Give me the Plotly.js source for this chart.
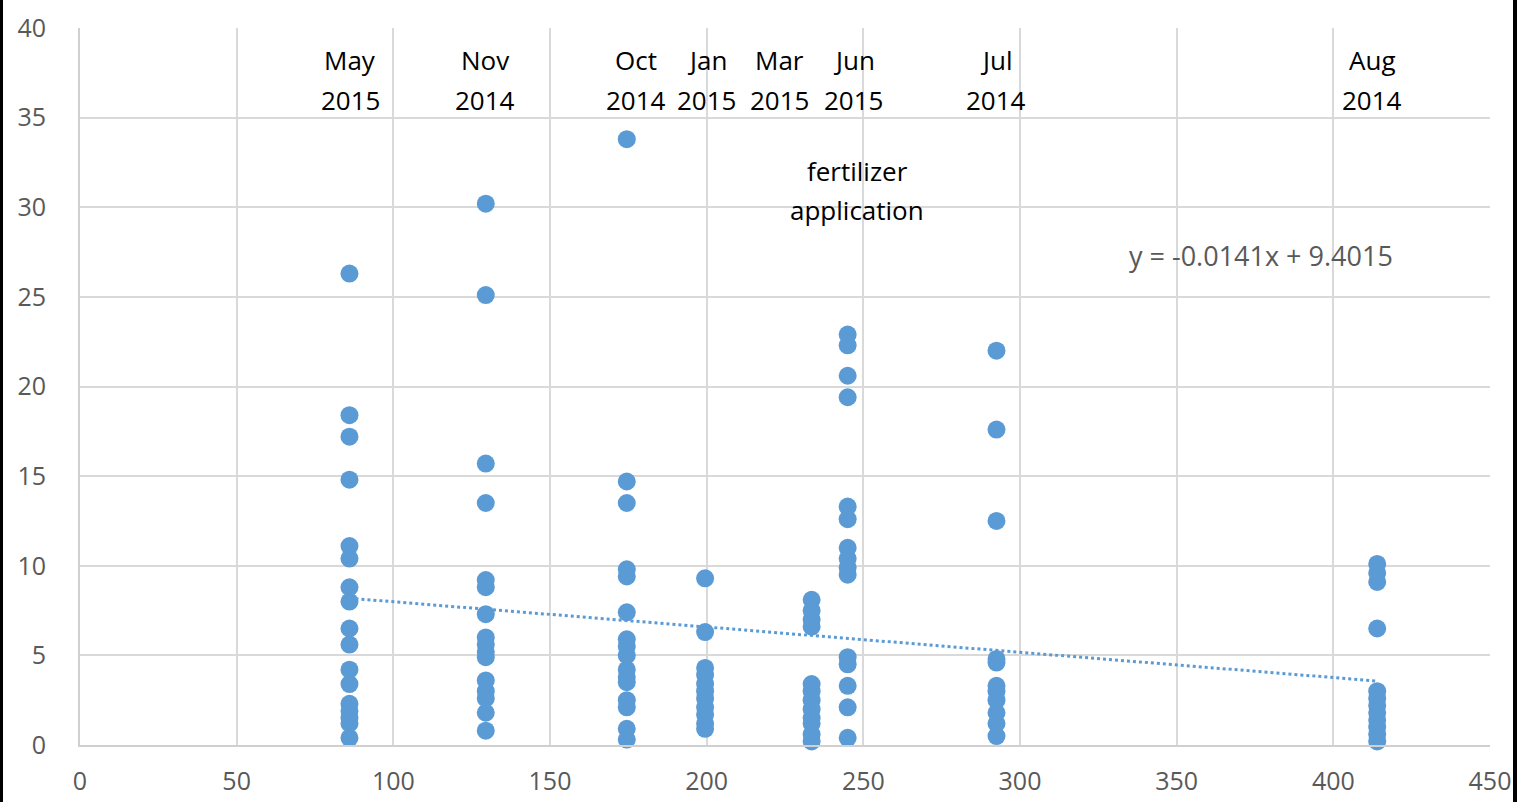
<!DOCTYPE html>
<html>
<head>
<meta charset="utf-8">
<script src="https://cdn.plot.ly/plotly-3.0.1.min.js"></script>
<style>
html,body{margin:0;padding:0;background:#fff;}
#chart{width:1517px;height:802px;box-sizing:border-box;border-left:3px solid #000;border-right:4px solid #000;}
</style>
</head>
<body>
<div id="chart"></div>
<script>
// Sampling campaigns: x position (days) and measured values
const campaignX = [86, 129.5, 174.5, 199.5, 233.5, 245, 292.5, 414];
const monthLabels = ["May", "Nov", "Oct", "Jan", "Mar", "Jun", "Jul", "Aug"];
const yearLabels = ["2015", "2014", "2014", "2015", "2015", "2015", "2014", "2014"];
const labelX = [86.2, 129.3, 177.5, 200.1, 223.4, 247.0, 292.4, 412.4];

const may2015 = [26.3, 18.4, 17.2, 14.8, 11.1, 10.4, 8.8, 8.0, 6.5, 5.6, 4.2, 3.4, 2.3, 1.9, 1.5, 1.2, 0.4];
const nov2014 = [30.2, 25.1, 15.7, 13.5, 9.2, 8.8, 7.3, 6.0, 5.6, 5.2, 4.9, 3.6, 3.0, 2.6, 1.8, 0.8];
const oct2014 = [33.8, 14.7, 13.5, 9.8, 9.4, 7.4, 5.9, 5.5, 5.0, 4.2, 3.8, 3.5, 2.5, 2.1, 0.9, 0.3];
const jan2015 = [9.3, 6.3, 4.3, 3.9, 3.4, 3.0, 2.6, 2.1, 1.7, 1.2, 0.9];
const mar2015 = [8.1, 7.5, 7.0, 6.6, 3.4, 3.0, 2.5, 2.0, 1.5, 1.2, 0.6, 0.2];
const jun2015 = [22.9, 22.3, 20.6, 19.4, 13.3, 12.6, 11.0, 10.4, 9.9, 9.5, 4.9, 4.5, 3.3, 2.1, 0.4];
const jul2014 = [22.0, 17.6, 12.5, 4.8, 4.6, 3.3, 3.0, 2.5, 1.8, 1.2, 0.5];
const aug2014 = [10.1, 9.6, 9.1, 6.5, 3.0, 2.6, 2.2, 1.8, 1.4, 1.0, 0.6, 0.2];

const trendSlope = -0.0141;
const trendIntercept = 9.4015;
const equationText = "y = -0.0141x + 9.4015";
const noteLines = ["fertilizer", "application"];

const series = [may2015, nov2014, oct2014, jan2015, mar2015, jun2015, jul2014, aug2014];
const xs = [], ys = [];
series.forEach((vals, i) => vals.forEach(v => { xs.push(campaignX[i]); ys.push(v); }));

const xMin = Math.min(...campaignX), xMax = Math.max(...campaignX);
const trendX = [xMin, xMax];
const trendY = trendX.map(x => trendSlope * x + trendIntercept);

const blue = "#5B9BD5";
const font = "'Open Sans', Lato, sans-serif";

const traces = [
  {x: xs, y: ys, type: "scatter", mode: "markers",
   marker: {color: blue, size: 18, line: {width: 0}}, showlegend: false, cliponaxis: false},
  {x: trendX, y: trendY, type: "scatter", mode: "lines",
   line: {color: blue, width: 3, dash: "dot"}, showlegend: false}
];

const annotations = [];
function addText(x, y, t, size, color) {
  annotations.push({x: x, y: y, xref: "x", yref: "y", text: t, showarrow: false,
    font: {family: font, size: size, color: color}, xanchor: "center", yanchor: "middle"});
}
monthLabels.forEach((m, i) => { addText(labelX[i], 38.2, m, 26, "#000"); addText(labelX[i], 36.0, yearLabels[i], 26, "#000"); });
addText(248, 32.05, noteLines[0], 26, "#000");
addText(248, 29.85, noteLines[1], 26, "#000");
addText(377, 27.3, equationText, 27, "#595959");

const layout = {
  width: 1510, height: 802,
  margin: {l: 77, r: 23, t: 28, b: 57},
  paper_bgcolor: "#fff", plot_bgcolor: "#fff",
  font: {family: font, size: 25, color: "#595959"},
  xaxis: {range: [0, 450], dtick: 50, tick0: 0, showgrid: true, gridcolor: "#d9d9d9", gridwidth: 2,
    zeroline: false, showline: true, linecolor: "#d0d0d0", linewidth: 2, ticks: "", ticklen: 0,
    ticklabelstandoff: 13,
    tickfont: {family: font, size: 25, color: "#595959"}, fixedrange: true},
  yaxis: {range: [0, 40], dtick: 5, tick0: 0, showgrid: true, gridcolor: "#d9d9d9", gridwidth: 2,
    zeroline: false, showline: true, linecolor: "#d0d0d0", linewidth: 2, ticks: "", ticklen: 0,
    ticklabelstandoff: 27,
    tickfont: {family: font, size: 25, color: "#595959"}, fixedrange: true},
  annotations: annotations,
  showlegend: false
};

Plotly.newPlot("chart", traces, layout, {displayModeBar: false, staticPlot: true});
</script>
</body>
</html>
